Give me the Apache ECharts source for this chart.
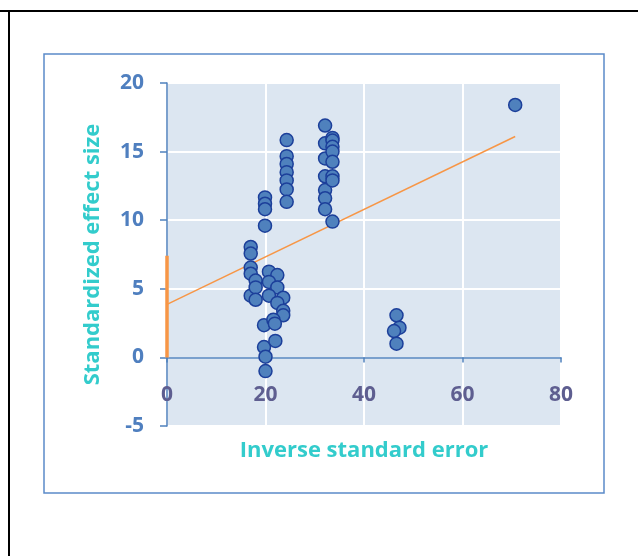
<!DOCTYPE html>
<html>
<head>
<meta charset="utf-8">
<script src="https://cdn.jsdelivr.net/npm/echarts@6/dist/echarts.min.js"></script>
<style>
html,body{margin:0;padding:0;background:#fff;}
#c{width:638px;height:556px;}
</style>
</head>
<body>
<div id="c"></div>
<script>
// Data
const xValues = [17.0, 17.0, 17.0, 17.0, 17.0, 18.0, 18.0, 18.0,
  19.9, 19.9, 19.9, 19.9, 19.7, 19.7, 20.0, 20.0,
  20.7, 22.4, 20.7, 22.4, 20.7, 23.6, 22.4, 23.6, 23.6, 21.6, 21.9, 22.0,
  24.3, 24.3, 24.3, 24.3, 24.3, 24.3, 24.3,
  32.1, 32.1, 32.1, 32.1, 32.1, 32.1, 32.1,
  33.6, 33.6, 33.6, 33.6, 33.6, 33.6, 33.6, 33.6,
  70.7, 46.6, 47.2, 46.1, 46.6];
const yValues = [8.05, 7.57, 6.55, 6.1, 4.5, 5.6, 5.1, 4.2,
  11.66, 11.2, 10.8, 9.6, 2.35, 0.75, 0.05, -1.0,
  6.25, 6.0, 5.5, 5.1, 4.5, 4.35, 3.97, 3.4, 3.07, 2.75, 2.46, 1.2,
  15.84, 14.67, 14.1, 13.5, 12.9, 12.24, 11.34,
  16.9, 15.6, 14.5, 13.2, 12.2, 11.6, 10.8,
  16.0, 15.8, 15.35, 15.0, 14.26, 13.2, 12.9, 9.9,
  18.4, 3.07, 2.17, 1.92, 1.0];
const fitLine = [[0, 3.87], [70.7, 16.1]];
const zeroBar = [[0, 0], [0, 7.4]];
const xTicks = {min: 0, max: 80, interval: 20};
const yTicks = {min: -5, max: 20, interval: 5};
const xTitle = 'Inverse standard error';
const yTitle = 'Standardized effect size';

const pts = xValues.map((x, i) => [x, yValues[i]]);
const FONT = '"Open Sans", "Noto Sans", sans-serif';

const chart = echarts.init(document.getElementById('c'), null, {renderer: 'canvas'});
chart.setOption({
  animation: false,
  backgroundColor: '#ffffff',
  graphic: [
    {type: 'rect', shape: {x: 0, y: 10, width: 638, height: 2}, style: {fill: '#000'}, z: 0},
    {type: 'rect', shape: {x: 8, y: 10, width: 2, height: 546}, style: {fill: '#000'}, z: 0},
    {type: 'rect', shape: {x: 44, y: 54, width: 560, height: 439}, style: {fill: 'none', stroke: '#5B8BC9', lineWidth: 1.5}, z: 0}
  ],
  grid: {left: 167, top: 83, width: 394, height: 343, show: true, backgroundColor: '#DCE6F1', borderWidth: 0},
  xAxis: {
    type: 'value', min: xTicks.min, max: xTicks.max, interval: xTicks.interval,
    name: xTitle, nameLocation: 'middle', nameGap: 14,
    nameTextStyle: {color: '#33CCCC', fontSize: 22, fontWeight: 'bold', fontFamily: FONT},
    axisLine: {show: true, onZero: true, lineStyle: {color: '#4F81BD', width: 1.5}},
    axisTick: {show: true, inside: false, length: 5, lineStyle: {color: '#4F81BD', width: 1.5}},
    axisLabel: {color: '#5E5E90', fontSize: 21, fontWeight: 'bold', fontFamily: FONT, margin: -41},
    splitLine: {show: true, lineStyle: {color: '#ffffff', width: 2}}
  },
  yAxis: {
    type: 'value', min: yTicks.min, max: yTicks.max, interval: yTicks.interval,
    name: yTitle, nameLocation: 'middle', nameGap: 63, nameRotate: 90,
    nameTextStyle: {color: '#33CCCC', fontSize: 22, fontWeight: 'bold', fontFamily: FONT},
    axisLine: {show: true, onZero: false, lineStyle: {color: '#4F81BD', width: 1.5}},
    axisTick: {show: true, inside: false, length: 7, lineStyle: {color: '#4F81BD', width: 1.5}},
    axisLabel: {color: '#4F7FBF', fontSize: 21, fontWeight: 'bold', fontFamily: FONT, margin: 23},
    splitLine: {show: true, lineStyle: {color: '#ffffff', width: 2}}
  },
  series: [
    {type: 'line', data: zeroBar, symbol: 'none', lineStyle: {color: '#F79646', width: 3.5}, z: 3},
    {type: 'line', data: fitLine, symbol: 'none', lineStyle: {color: '#F79646', width: 1.5}, z: 3},
    {type: 'scatter', data: pts, symbol: 'circle', symbolSize: 13,
      itemStyle: {color: '#4F81BD', borderColor: '#1C3F9A', borderWidth: 1.5, opacity: 1}, z: 4}
  ]
});
</script>
</body>
</html>
